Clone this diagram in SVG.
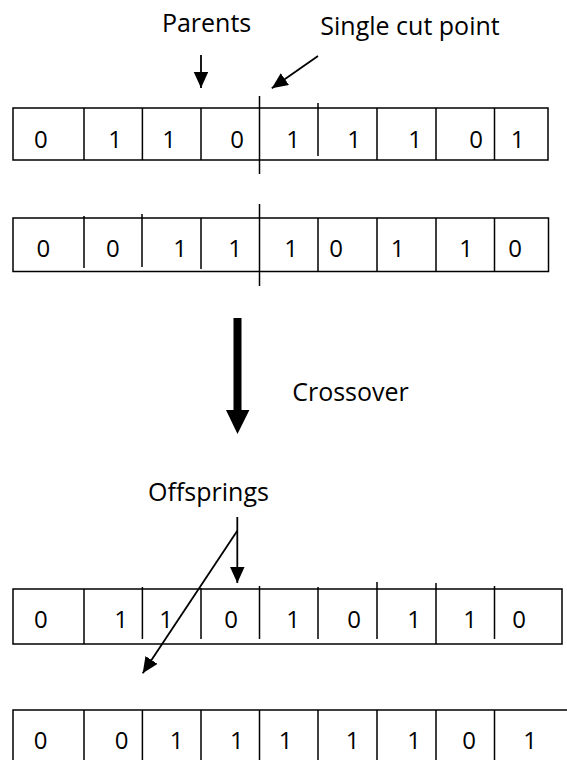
<svg xmlns="http://www.w3.org/2000/svg" width="567" height="760" viewBox="0 0 567 760">
<style>
.box{fill:#fff;stroke:#000;stroke-width:1.5}
.div{stroke:#000;stroke-width:1.5;fill:none}
.d{font-family:"Open Sans","Liberation Sans",sans-serif;font-size:24px;fill:#000;text-anchor:middle}
.lbl{font-family:"Open Sans","Liberation Sans",sans-serif;font-size:25px;fill:#000;text-anchor:middle}
.arr{stroke:#000;stroke-width:1.8;fill:none;marker-end:url(#ah)}
</style>
<defs>
<marker id="ah" markerUnits="userSpaceOnUse" markerWidth="17" markerHeight="15" refX="16" refY="7.25" orient="auto">
<path d="M0,0 L16,7.25 L0,14.5 Z" fill="#000"/>
</marker>
</defs>
<rect width="567" height="760" fill="#fff"/>

<g id="parent1">
<rect class="box" x="13" y="108" width="535" height="52"/>
<path class="div" d="M84,108V160 M142.4,108V160 M201,108V160 M318,103V156 M377,108V160 M436,108V160 M494.5,108V160"/>
<text class="d" x="40.8" y="148">0</text>
<text class="d" x="115" y="148">1</text>
<text class="d" x="169" y="148">1</text>
<text class="d" x="237" y="148">0</text>
<text class="d" x="293" y="148">1</text>
<text class="d" x="354" y="148">1</text>
<text class="d" x="415" y="148">1</text>
<text class="d" x="476" y="148">0</text>
<text class="d" x="517.6" y="148">1</text>
</g>

<g id="parent2">
<rect class="box" x="13" y="218" width="535.5" height="53.5"/>
<path class="div" d="M84,216V268 M142,214V267 M201,218V269 M318,218V271.5 M377,218V271.5 M436,218V271.5 M494.5,218V271.5"/>
<text class="d" x="43.4" y="257">0</text>
<text class="d" x="112.8" y="257">0</text>
<text class="d" x="180" y="257">1</text>
<text class="d" x="235" y="257">1</text>
<text class="d" x="291" y="257">1</text>
<text class="d" x="336" y="257">0</text>
<text class="d" x="397.6" y="257">1</text>
<text class="d" x="466" y="257">1</text>
<text class="d" x="515" y="257">0</text>
</g>

<g id="offspring1">
<rect class="box" x="13" y="589" width="549" height="55"/>
<path class="div" d="M84,589V644 M142.4,587V639 M201,588V639 M259.5,586V639 M318,587V639 M377,582V639 M436,583V644 M494.5,586V639"/>
<text class="d" x="40.8" y="628">0</text>
<text class="d" x="121" y="628">1</text>
<text class="d" x="166" y="628">1</text>
<text class="d" x="231" y="628">0</text>
<text class="d" x="293" y="628">1</text>
<text class="d" x="354" y="628">0</text>
<text class="d" x="414" y="628">1</text>
<text class="d" x="470" y="628">1</text>
<text class="d" x="519" y="628">0</text>
</g>

<g id="offspring2">
<rect class="box" x="13" y="710" width="570" height="70"/>
<path class="div" d="M84,710V760 M142.4,710V760 M201,710V760 M259.5,710V760 M318,710V760 M377,710V760 M436,710V760 M494.5,710V760"/>
<text class="d" x="40.5" y="749">0</text>
<text class="d" x="121.5" y="749">0</text>
<text class="d" x="176.5" y="749">1</text>
<text class="d" x="236.8" y="749">1</text>
<text class="d" x="285.6" y="749">1</text>
<text class="d" x="352.5" y="749">1</text>
<text class="d" x="414" y="749">1</text>
<text class="d" x="469" y="749">0</text>
<text class="d" x="530" y="749">1</text>
</g>

<g id="cut">
<path class="div" d="M259.5,96V174 M259.5,204V286"/>
</g>

<g id="label-parents"><text class="lbl" x="206.6" y="32">Parents</text></g>
<g id="label-cut"><text class="lbl" x="410" y="35">Single cut point</text></g>
<g id="label-crossover"><text class="lbl" x="350.5" y="401">Crossover</text></g>
<g id="label-offsprings"><text class="lbl" x="208.5" y="501">Offsprings</text></g>

<g id="connectors">
<line class="arr" x1="201" y1="55" x2="201" y2="88"/>
<line class="arr" x1="318" y1="56" x2="271.8" y2="88.3"/>
<polygon points="233.5,318 241.5,318 241.5,410 249.4,410 237.5,434 226,410 233.5,410" fill="#000"/>
<line class="arr" x1="237.3" y1="517" x2="237.3" y2="583"/>
<line class="arr" x1="237.3" y1="530.7" x2="142.7" y2="673.3"/>
</g>
</svg>
